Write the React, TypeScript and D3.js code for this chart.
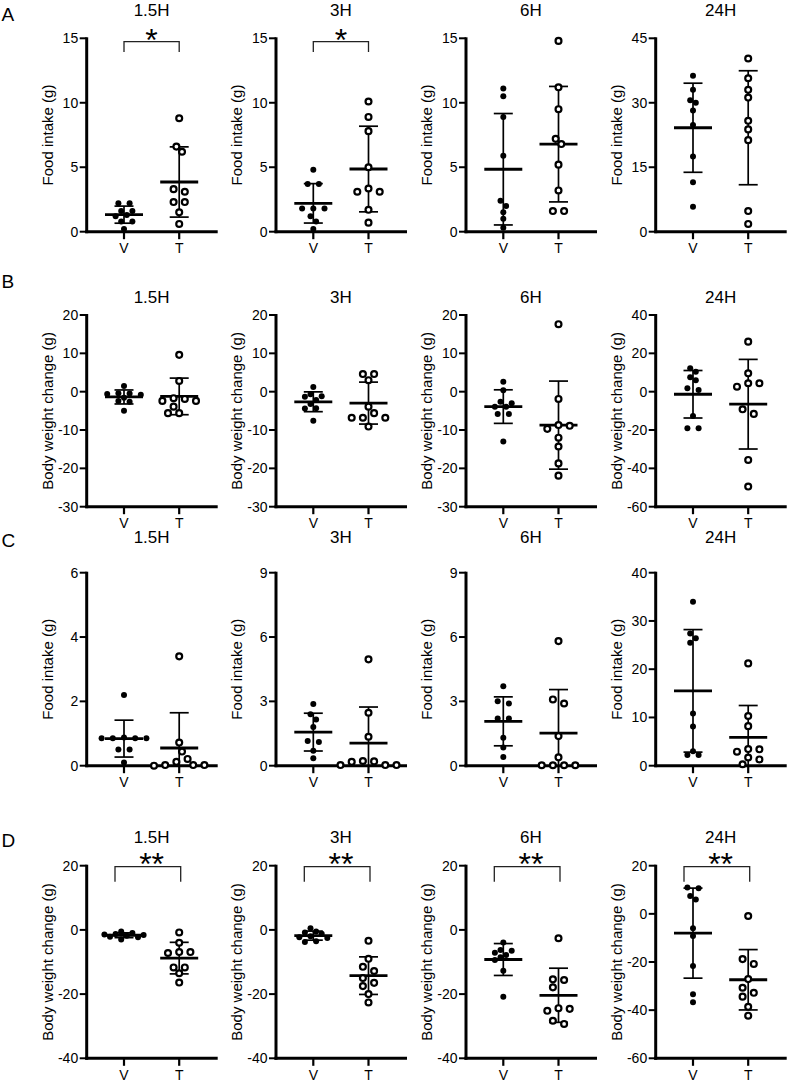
import React from 'react';
import * as d3 from 'd3';

// ---------- data ----------
const groups = ['V', 'T'];
const timepoints = ['1.5H', '3H', '6H', '24H'];

// Row A: Food intake (g)
const rowA_V = [
  [2.2, 2.2, 1.6, 1.6, 1.3, 1.2, 0.8, 0.8, 0.2],
  [4.8, 3.7, 3.7, 1.8, 1.8, 1.8, 1.2, 0.8, 0.2],
  [11.1, 10.5, 8.9, 5.9, 2.4, 2.0, 1.5, 1.0, 0.3],
  [36.3, 33.0, 30.6, 30.0, 28.2, 24.8, 17.5, 11.5, 5.8],
];
const rowA_T = [
  [8.8, 6.6, 6.2, 3.3, 3.1, 2.3, 2.3, 1.5, 0.6],
  [10.1, 8.9, 7.8, 5.0, 3.35, 3.1, 3.1, 1.7, 0.7],
  [14.8, 11.2, 9.5, 7.2, 6.8, 5.2, 3.2, 1.6, 1.6],
  [40.3, 35.7, 33.0, 31.2, 25.8, 23.8, 21.3, 4.8, 1.8],
];
// Row B: Body weight change (g)
const rowB_V = [
  [1.5, -0.4, -0.5, -0.6, -0.8, -1.6, -2.4, -2.6, -5.0],
  [1.2, -0.7, -1.2, -1.3, -2.2, -3.2, -4.3, -4.4, -7.6],
  [2.6, 0.4, -2.6, -3.0, -3.9, -3.9, -5.8, -5.8, -13.0],
  [12.2, 10.4, 7.5, 6.0, 1.8, 0.9, -12.7, -19.1, -19.1],
];
const rowB_T = [
  [9.6, 2.8, -1.7, -1.9, -2.4, -2.4, -3.9, -5.6, -5.6],
  [4.6, 4.6, 3.0, -3.9, -5.6, -6.8, -6.8, -6.8, -9.1],
  [17.6, -1.9, -8.7, -8.9, -9.7, -12.0, -14.3, -18.7, -21.9],
  [26.1, 9.6, 4.4, 4.4, 2.6, -9.2, -11.6, -35.6, -49.5],
];
// Row C: Food intake (g)
const rowC_V = [
  [2.2, 0.88, 0.85, 0.85, 0.85, 0.85, 0.5, 0.5, 0.1],
  [2.88, 2.4, 2.15, 1.8, 1.15, 1.1, 0.7, 0.35],
  [3.7, 3.0, 2.9, 2.2, 2.2, 1.3, 0.85, 0.4],
  [34.0, 27.4, 26.4, 25.5, 10.8, 8.1, 3.0, 2.2, 2.2],
];
const rowC_T = [
  [3.4, 0.72, 0.44, 0.21, 0.12, 0.02, 0.02, 0.02, 0.0],
  [4.96, 2.47, 1.35, 0.2, 0.22, 0.18, 0.03, 0.03, 0.03],
  [5.81, 3.09, 2.9, 1.38, 0.39, 0.02, 0.02, 0.02, 0.02],
  [21.2, 10.3, 8.2, 3.45, 3.4, 2.9, 1.7, 1.3, 0.3],
];
// Row D: Body weight change (g)
const rowD_V = [
  [-0.5, -1.0, -1.3, -1.4, -1.6, -1.8, -2.1, -2.3, -3.0],
  [0.5, -0.5, -0.8, -1.2, -2.0, -2.3, -2.5, -3.5, -3.8],
  [-3.9, -6.3, -6.5, -7.1, -7.8, -8.5, -9.4, -12.7, -20.8],
  [10.6, 10.9, 7.4, 6.0, -6.0, -9.2, -21.7, -33.4, -36.7],
];
const rowD_T = [
  [-0.8, -4.0, -6.9, -6.9, -7.2, -11.7, -11.7, -13.5, -16.4],
  [-3.4, -9.0, -11.5, -12.8, -15.0, -16.5, -17.5, -20.0, -22.6],
  [-2.6, -15.4, -15.6, -17.9, -24.4, -24.6, -25.2, -28.3, -29.3],
  [-0.9, -18.8, -20.8, -27.1, -30.7, -32.8, -34.4, -38.6, -42.3],
];

const rowA_domains = [[0, 15], [0, 15], [0, 15], [0, 45]];
const rowB_domains = [[-30, 20], [-30, 20], [-30, 20], [-60, 40]];
const rowC_domains = [[0, 6], [0, 9], [0, 9], [0, 40]];
const rowD_domains = [[-40, 20], [-40, 20], [-40, 20], [-60, 20]];

const rowA_tickStep = [5, 5, 5, 15];
const rowB_tickStep = [10, 10, 10, 20];
const rowC_tickStep = [2, 3, 3, 10];
const rowD_tickStep = [20, 20, 20, 20];

const rowA_sig = ['*', '*', '', ''];
const rowB_sig = ['', '', '', ''];
const rowC_sig = ['', '', '', ''];
const rowD_sig = ['**', '**', '**', '**'];

const hiddenMeanLines = ['A 24H T'];

// ---------- layout ----------
const FONT = "'Liberation Sans', Arial, Helvetica, sans-serif";
const axisX = [86.7, 276, 466, 655.7];
const rowLayout = [
  { top: 38.3, bottom: 231.7, titleY: 15.5, letterY: 21, brY: 3.4, brDrop: 10.3, brL: 0, brR: 0, starGap: 8.7 },
  { top: 315, bottom: 506.7, titleY: 303, letterY: 288, brY: 0, brDrop: 0, brL: 0, brR: 0, starGap: 0 },
  { top: 572.7, bottom: 765.7, titleY: 543, letterY: 547, brY: 0, brDrop: 0, brL: 0, brR: 0, starGap: 0 },
  { top: 865.7, bottom: 1058.3, titleY: 843, letterY: 847, brY: 1, brDrop: 15, brL: -9, brR: 1.5, starGap: 9.2 },
];

const rows = [
  { letter: 'A', label: 'Food intake (g)', V: rowA_V, T: rowA_T, domains: rowA_domains, step: rowA_tickStep, sig: rowA_sig },
  { letter: 'B', label: 'Body weight change (g)', V: rowB_V, T: rowB_T, domains: rowB_domains, step: rowB_tickStep, sig: rowB_sig },
  { letter: 'C', label: 'Food intake (g)', V: rowC_V, T: rowC_T, domains: rowC_domains, step: rowC_tickStep, sig: rowC_sig },
  { letter: 'D', label: 'Body weight change (g)', V: rowD_V, T: rowD_T, domains: rowD_domains, step: rowD_tickStep, sig: rowD_sig },
];

function swarm(vals: number[], y: (v: number) => number, minDist: number, step: number): number[] {
  const order = vals.map((_, i) => i).sort((a, b) => vals[b] - vals[a]);
  const placed: { i: number; x: number; y: number }[] = [];
  const cands = [0];
  for (let k = 1; k <= 14; k++) cands.push(k * step, -k * step);
  for (const i of order) {
    const py = y(vals[i]);
    let chosen = 0;
    for (const c of cands) {
      if (placed.every((p) => Math.hypot(p.x - c, p.y - py) >= minDist)) { chosen = c; break; }
    }
    placed.push({ i, x: chosen, y: py });
  }
  placed.sort((a, b) => a.y - b.y);
  let start = 0;
  for (let k = 1; k <= placed.length; k++) {
    if (k === placed.length || placed[k].y - placed[k - 1].y >= minDist) {
      const comp = placed.slice(start, k);
      if (comp.length > 1) {
        const ext = d3.extent(comp, (p) => p.x) as [number, number];
        const m = (ext[0] + ext[1]) / 2;
        comp.forEach((p) => { p.x -= m; });
      }
      start = k;
    }
  }
  const out = new Array(vals.length).fill(0);
  placed.forEach((p) => { out[p.i] = p.x; });
  return out;
}

function Panel({ r, c }: { r: number; c: number }) {
  const row = rows[r];
  const lay = rowLayout[r];
  const ax = axisX[c];
  const [d0, d1] = row.domains[c];
  const y = d3.scaleLinear().domain([d0, d1]).range([lay.bottom, lay.top]);
  const x = d3.scalePoint().domain(groups).range([ax + 37.3, ax + 92.5]);
  const ticks = d3.range(d0, d1 + row.step[c] / 2, row.step[c]);
  const tp = timepoints[c];
  const midX = ((x('V') as number) + (x('T') as number)) / 2;

  const series = groups.map((g) => {
    const vals: number[] = (g === 'V' ? row.V : row.T)[c];
    const mean = d3.mean(vals) as number;
    const sd = d3.deviation(vals) as number;
    const open = g === 'T';
    const offs = swarm(vals, y, open ? 7.6 : 6.0, 5.6);
    const hi = mean + sd;
    const lo = mean - sd;
    return { g, vals, mean, hi, lo, loClipped: lo < d0, open, offs, cx: x(g) as number };
  });

  const sig = row.sig[c];
  const brY = lay.top + lay.brY;

  return (
    <g>
      <text x={midX} y={lay.titleY} textAnchor="middle" fontSize={17} fontFamily={FONT}>{tp}</text>
      <text transform={`translate(${ax - 34},${(lay.top + lay.bottom) / 2}) rotate(-90)`} textAnchor="middle" fontSize={15} fontFamily={FONT}>{row.label}</text>
      {ticks.map((t) => (
        <g key={t}>
          <line x1={ax - 7} x2={ax} y1={y(t)} y2={y(t)} stroke="#000" strokeWidth={2} />
          <text x={ax - 8.5} y={y(t)} dy="0.36em" textAnchor="end" fontSize={14} fontFamily={FONT}>{t}</text>
        </g>
      ))}
      {series.map((s) => (
        <g key={s.g}>
          <line x1={s.cx} x2={s.cx} y1={y(s.hi)} y2={y(Math.max(s.lo, d0))} stroke="#000" strokeWidth={1.7} />
          <line x1={s.cx - 9.5} x2={s.cx + 9.5} y1={y(s.hi)} y2={y(s.hi)} stroke="#000" strokeWidth={1.7} />
          {!s.loClipped && (
            <line x1={s.cx - 9.5} x2={s.cx + 9.5} y1={y(s.lo)} y2={y(s.lo)} stroke="#000" strokeWidth={1.7} />
          )}
          {!hiddenMeanLines.includes(`${row.letter} ${tp} ${s.g}`) && (
            <line x1={s.cx - 19} x2={s.cx + 19} y1={y(s.mean)} y2={y(s.mean)} stroke="#000" strokeWidth={2.8} />
          )}
        </g>
      ))}
      <line x1={ax} x2={ax} y1={lay.top - 1} y2={lay.bottom + 1.5} stroke="#000" strokeWidth={3} />
      <line x1={ax - 1.5} x2={ax + 131} y1={lay.bottom} y2={lay.bottom} stroke="#000" strokeWidth={3} />
      {groups.map((g) => (
        <g key={g}>
          <line x1={x(g) as number} x2={x(g) as number} y1={lay.bottom} y2={lay.bottom + 7.5} stroke="#000" strokeWidth={2.2} />
          <text x={x(g) as number} y={lay.bottom + 21.6} textAnchor="middle" fontSize={14} fontFamily={FONT}>{g}</text>
        </g>
      ))}
      {series.map((s) => (
        <g key={s.g + 'p'}>
          {s.vals.map((v, i) =>
            s.open ? (
              <circle key={i} cx={s.cx + s.offs[i]} cy={y(v)} r={2.95} fill="#fff" stroke="#000" strokeWidth={2.2} />
            ) : (
              <circle key={i} cx={s.cx + s.offs[i]} cy={y(v)} r={3.0} fill="#000" />
            )
          )}
        </g>
      ))}
      {sig && (
        <g>
          <path
            d={`M${(x('V') as number) + lay.brL},${brY + lay.brDrop}V${brY}H${(x('T') as number) + lay.brR}V${brY + lay.brDrop}`}
            fill="none" stroke="#222" strokeWidth={1.3} />
          <text x={midX} y={brY - lay.starGap + 17.8} textAnchor="middle" fontSize={32} fontFamily={FONT}>{sig}</text>
        </g>
      )}
    </g>
  );
}

export default function App() {
  return (
    <svg width={787} height={1082} viewBox="0 0 787 1082"
      style={{ position: 'absolute', left: 0, top: 0, display: 'block', background: '#fff' }}>
      <rect width={787} height={1082} fill="#fff" />
      {rows.map((row, r) => (
        <g key={row.letter}>
          <text x={1.5} y={rowLayout[r].letterY} fontSize={19} fontFamily={FONT}>{row.letter}</text>
          {timepoints.map((_, c) => <Panel key={c} r={r} c={c} />)}
        </g>
      ))}
    </svg>
  );
}
